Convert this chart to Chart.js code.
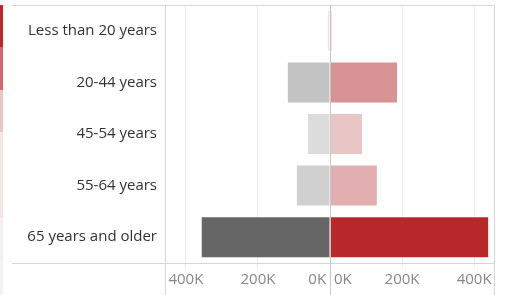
<!DOCTYPE html>
<html>
<head>
<meta charset="utf-8">
<script src="https://cdn.jsdelivr.net/npm/chart.js@4"></script>
<style>
  html, body { margin: 0; padding: 0; background: #fff; }
  #wrap { position: relative; width: 507px; height: 295px; }
  #strip {
    position: absolute; left: 0; top: 5px; width: 3px; height: 290px;
    background: linear-gradient(to bottom,
      #c0272d 0px, #c0272d 42px,
      #d3656b 42px, #d3656b 85px,
      #ecc5c6 85px, #ecc5c6 127px,
      #f3e4e5 127px, #f3e4e5 212px,
      #f4eeee 212px, #f4eeee 253px,
      #f3f3f3 253px);
  }
  canvas { position: absolute; left: 0; top: 0; }
</style>
</head>
<body>
<div id="wrap">
  <div id="strip"></div>
  <canvas id="chart" width="507" height="295"></canvas>
</div>
<script>
  var ageGroups = ["Less than 20 years", "20-44 years", "45-54 years", "55-64 years", "65 years and older"];
  var leftValues = [6000, 117000, 61000, 92000, 356000];
  var rightValues = [6000, 186000, 89000, 130000, 439000];
  var leftColors = ["#e6e6e6", "#c4c4c4", "#dcdcdc", "#d0d0d0", "#666666"];
  var rightColors = ["#efe3e3", "#d99394", "#e8c6c6", "#e2afb0", "#b8282a"];
  var tickValues = [0, 200000, 400000];
  var axisMax = 458000;

  function gridColor(ctx) {
    var v = ctx.tick && ctx.tick.value;
    if (v === 0 || v === axisMax) return "rgba(0,0,0,0)";
    return "#ececec";
  }

  function xScale(reverse) {
    return {
      type: "linear",
      position: "bottom",
      stack: "x",
      reverse: reverse,
      min: 0,
      max: axisMax,
      grid: { color: gridColor, tickColor: gridColor, tickLength: 5, lineWidth: 1 },
      border: { display: false },
      ticks: {
        align: "inner",
        autoSkip: false,
        maxRotation: 0,
        padding: 3,
        color: "#888888",
        font: { family: "Open Sans", size: 15 },
        callback: function (v) {
          if (v === axisMax) return "";
          var txt = (v / 1000) + "K";
          // keep the two 0K labels off the divider line
          if (v === 0) txt = reverse ? txt + " " : " " + txt;
          return txt;
        }
      },
      // fixed ticks, plus an empty one at the axis end so 'inner' only pushes the 0K label
      afterBuildTicks: function (s) {
        s.ticks = tickValues.concat([axisMax]).map(function (v) { return { value: v }; });
      },
      afterFit: function (s) {
        s.height = 32;
        s.paddingLeft = 0;
        s.paddingRight = 0;
      }
    };
  }

  // frame lines like the original (borders + zero divider)
  var framePlugin = {
    id: "frame",
    afterDatasetsDraw: function (chart) {
      var ctx = chart.ctx;
      var a = chart.chartArea;
      var mid = Math.round(chart.scales.xr.left) + 0.5;
      var top = Math.round(a.top) + 0.5;
      var bottom = Math.round(a.bottom) + 0.5;
      var left = Math.round(a.left) + 0.5;
      var right = Math.round(a.right) - 0.5;
      ctx.save();
      ctx.lineWidth = 1;
      ctx.strokeStyle = "#d6d6d6";
      ctx.beginPath();
      ctx.moveTo(12, top); ctx.lineTo(right, top);
      ctx.moveTo(12, bottom); ctx.lineTo(right, bottom);
      ctx.moveTo(left, top); ctx.lineTo(left, chart.height);
      ctx.moveTo(right, top); ctx.lineTo(right, chart.height);
      ctx.stroke();
      ctx.strokeStyle = "#c8c8c8";
      ctx.beginPath();
      ctx.moveTo(mid, top); ctx.lineTo(mid, chart.height);
      ctx.stroke();
      ctx.restore();
    }
  };

  new Chart("chart", {
    type: "bar",
    data: {
      labels: ageGroups,
      datasets: [{
        data: leftValues,
        backgroundColor: leftColors,
        xAxisID: "xl",
        grouped: false,
        barPercentage: 0.775,
        categoryPercentage: 1
      }, {
        data: rightValues,
        backgroundColor: rightColors,
        xAxisID: "xr",
        grouped: false,
        barPercentage: 0.775,
        categoryPercentage: 1
      }]
    },
    options: {
      indexAxis: "y",
      responsive: false,
      animation: false,
      devicePixelRatio: 1,
      layout: { padding: { top: 5, right: 12, left: 0, bottom: 0 } },
      plugins: { legend: { display: false }, tooltip: { enabled: false } },
      scales: {
        y: {
          type: "category",
          grid: { display: false, drawTicks: false },
          border: { display: false },
          ticks: { color: "#333333", padding: 8, font: { family: "Open Sans", size: 15 } },
          afterFit: function (s) {
            s.width = 165;
            s.paddingTop = 0;
            s.paddingBottom = 0;
          }
        },
        xl: xScale(true),
        xr: xScale(false)
      }
    },
    plugins: [framePlugin]
  });
</script>
</body>
</html>
